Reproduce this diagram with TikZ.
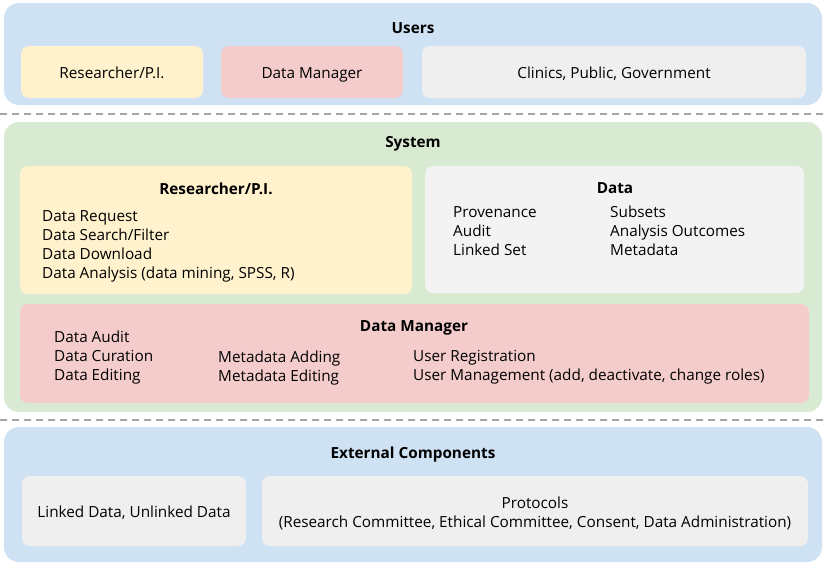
\documentclass[tikz,border=0pt]{standalone}
\usepackage{fontspec}
\setmainfont{Open Sans}
\definecolor{pblue}{HTML}{CFE2F3}
\definecolor{pgreen}{HTML}{D9EAD3}
\definecolor{pyellow}{HTML}{FFF2CC}
\definecolor{ppink}{HTML}{F4CCCC}
\definecolor{pgray}{HTML}{EFEFEF}
\definecolor{pgraylt}{HTML}{F3F3F3}
\definecolor{dashgray}{HTML}{A6A6A6}
\begin{document}
\begin{tikzpicture}[x=1pt,y=-1pt,
  panel/.style={rounded corners=15pt, draw=none, inner sep=0pt},
  inbox/.style={rounded corners=8pt, draw=none, inner sep=0pt},
  txt/.style={inner sep=0pt, font=\fontsize{15.3}{19}\selectfont, text height=11pt, text depth=3pt},
  lst/.style={inner sep=0pt, font=\fontsize{15.3}{19}\selectfont, align=left, anchor=north west},
  ttl/.style={inner sep=0pt, font=\fontsize{15.3}{19}\selectfont\bfseries, text height=11pt, text depth=3pt},
  sep/.style={draw=dashgray, line width=1.5pt, dash pattern=on 7pt off 5pt}
]
\useasboundingbox (0,0) rectangle (826,566);
% panels
\node[panel, fill=pblue, minimum width=818pt, minimum height=102pt] (users) at (413,54) {};
\node[panel, fill=pgreen, minimum width=818pt, minimum height=290pt] (system) at (413,267) {};
\node[panel, fill=pblue, minimum width=818pt, minimum height=135pt] (ext) at (413,494.5) {};
% separators
\coordinate (s1a) at (0,114); \coordinate (s1b) at (826,114);
\coordinate (s2a) at (0,420); \coordinate (s2b) at (826,420);
\draw[sep] (s1a) -- (s1b);
\draw[sep] (s2a) -- (s2b);
% Users
\node[ttl] (tusers) at (413,29) {Users};
\node[inbox, fill=pyellow, minimum width=182pt, minimum height=52pt] (ur) at (112,72) {};
\node[txt] (urt) at (112,74) {Researcher/P.I.};
\node[inbox, fill=ppink, minimum width=182pt, minimum height=52pt] (ud) at (312,72) {};
\node[txt] (udt) at (312,74) {Data Manager};
\node[inbox, fill=pgray, minimum width=384pt, minimum height=52pt] (uc) at (614,72) {};
\node[txt] (uct) at (614,74) {Clinics, Public, Government};
% System
\node[ttl] (tsys) at (413,143) {System};
\node[inbox, fill=pyellow, minimum width=392pt, minimum height=128pt] (sr) at (216,230) {};
\node[ttl] (srt) at (216,190) {Researcher/P.I.};
\node[lst] (srl) at (42,210) {Data Request\\Data Search/Filter\\Data Download\\Data Analysis (data mining, SPSS, R)};
\node[inbox, fill=pgraylt, minimum width=379pt, minimum height=127pt] (sd) at (614.5,229.5) {};
\node[ttl] (sdt) at (615,189) {Data};
\node[lst] (sdl1) at (453,206) {Provenance\\Audit\\Linked Set};
\node[lst] (sdl2) at (610,206) {Subsets\\Analysis Outcomes\\Metadata};
\node[inbox, fill=ppink, minimum width=789pt, minimum height=99pt] (sm) at (414.5,353.5) {};
\node[ttl] (smt) at (414,327) {Data Manager};
\node[lst] (sml1) at (54,331) {Data Audit\\Data Curation\\Data Editing};
\node[lst] (sml2) at (218,351) {Metadata Adding\\Metadata Editing};
\node[lst] (sml3) at (413,350) {User Registration\\User Management (add, deactivate, change roles)};
% External
\node[ttl] (text) at (413,454) {External Components};
\node[inbox, fill=pgray, minimum width=224pt, minimum height=70pt] (el) at (134,511) {};
\node[txt] (elt) at (134,513) {Linked Data, Unlinked Data};
\node[inbox, fill=pgray, minimum width=546pt, minimum height=70pt] (ep) at (535,511) {};
\node[txt, align=center] (ept) at (535,523) {Protocols\\(Research Committee, Ethical Committee, Consent, Data Administration)};
\end{tikzpicture}
\end{document}
